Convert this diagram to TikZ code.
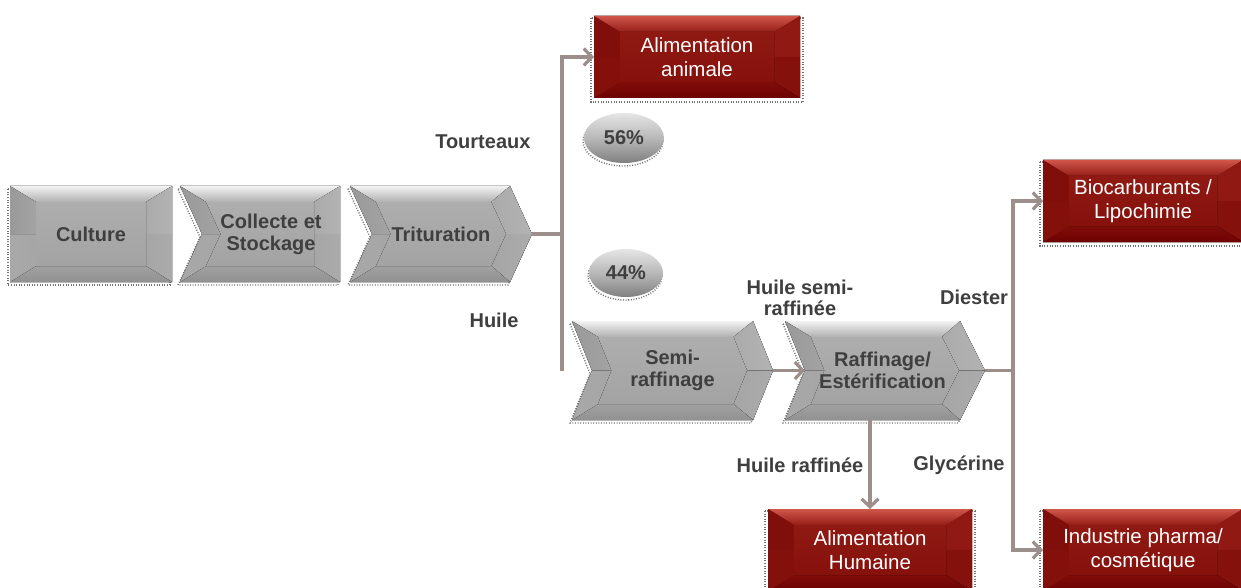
\documentclass[tikz,border=0pt]{standalone}
\usepackage{fontspec}
\setmainfont{Liberation Sans}
\usetikzlibrary{arrows.meta,calc,shapes.geometric}

\definecolor{conncol}{HTML}{9C8E8A}
\definecolor{txtgray}{HTML}{3F3F3F}
\definecolor{redtop}{HTML}{D0564B}
\definecolor{redmid}{HTML}{8A140E}
\definecolor{redbot}{HTML}{6E0202}

\tikzset{
  conn/.style={draw=conncol, line width=3.2pt},
  arr/.style={-{Straight Barb[length=8pt,width=17pt]}},
  shadowdots/.style={draw=black!55, line width=1.4pt, dash pattern=on 1pt off 1.6pt},
  % bevel facets, gray palette
  gray-top/.style={top color=black!5, bottom color=black!31},
  gray-rt/.style={left color=black!33, right color=black!30},
  gray-rb/.style={left color=black!35, right color=black!33},
  gray-bot/.style={top color=black!37, bottom color=black!43},
  gray-lb/.style={left color=black!34, right color=black!35},
  gray-lt/.style={left color=black!40, right color=black!36},
  gray-face/.style={top color=black!32, bottom color=black!36},
  % bevel facets, red palette
  red-top/.style={top color=redtop, bottom color=redmid!85!redtop},
  red-rt/.style={fill=redmid!92!redtop},
  red-rb/.style={fill=redmid!82!redbot},
  red-bot/.style={top color=redmid!60!redbot, bottom color=redbot},
  red-lb/.style={fill=redmid!78!redbot},
  red-lt/.style={fill=redmid!65!redbot},
  red-face/.style={top color=redmid!92!redtop, bottom color=redmid!85!redbot},
  frame/.style={rectangle, inner sep=0pt, outer sep=0pt},
  boxtext/.style={text=txtgray, font=\fontsize{20}{22}\selectfont\bfseries, align=center},
  redtext/.style={text=white, font=\fontsize{20.5}{23.5}\selectfont, align=center},
  flowlabel/.style={text=txtgray, font=\fontsize{20}{21.5}\selectfont\bfseries, align=center},
  pctnode/.style={ellipse, inner sep=0pt, top color=black!10, bottom color=black!50,
    middle color=black!28, text=txtgray, font=\fontsize{20}{22}\selectfont\bfseries}
}

% bevelled outline: x1, y1, x2, y2, left notch, right tip, palette
\newcommand\bevelshape[7]{%
  \pgfmathsetmacro\bvcy{(#2+#4)/2}%
  \pgfmathsetmacro\bvsc{(#4-#2-32)/(#4-#2)}%
  \coordinate (O1) at (#1,#2);
  \coordinate (O2) at ({#3-#6},#2);
  \coordinate (O3) at (#3,\bvcy);
  \coordinate (O4) at ({#3-#6},#4);
  \coordinate (O5) at (#1,#4);
  \coordinate (O6) at ({#1+#5},\bvcy);
  \coordinate (I1) at ({#1+26},{#2+16});
  \coordinate (I2) at ({#3-26-#6*\bvsc},{#2+16});
  \coordinate (I3) at ({#3-26},\bvcy);
  \coordinate (I4) at ({#3-26-#6*\bvsc},{#4-16});
  \coordinate (I5) at ({#1+26},{#4-16});
  \coordinate (I6) at ({#1+26+#5*\bvsc},\bvcy);
  \fill[#7-face] (O1) -- (O2) -- (O3) -- (O4) -- (O5) -- (O6) -- cycle;
  \fill[#7-top] (O1) -- (O2) -- (I2) -- (I1) -- cycle;
  \fill[#7-rt] (O2) -- (O3) -- (I3) -- (I2) -- cycle;
  \fill[#7-rb] (O3) -- (O4) -- (I4) -- (I3) -- cycle;
  \fill[#7-bot] (O4) -- (O5) -- (I5) -- (I4) -- cycle;
  \fill[#7-lb] (O5) -- (O6) -- (I6) -- (I5) -- cycle;
  \fill[#7-lt] (O6) -- (O1) -- (I1) -- (I6) -- cycle;
  \fill[#7-face] (I1) -- (I2) -- (I3) -- (I4) -- (I5) -- (I6) -- cycle;
}

% gray process stage: name, x1, y1, x2, y2, left notch, right tip, text
\newcommand\graystage[8]{%
  \pgfmathsetmacro\stcx{(#2+#4)/2}%
  \pgfmathsetmacro\stcy{(#3+#5)/2}%
  \pgfmathsetmacro\stww{#4-#2}%
  \pgfmathsetmacro\sthh{#5-#3}%
  \draw[shadowdots, shift={(-2,3)}] (#2,#3) -- ({#4-#7},#3) -- (#4,\stcy)
    -- ({#4-#7},#5) -- (#2,#5) -- ({#2+#6},\stcy) -- cycle;
  \bevelshape{#2}{#3}{#4}{#5}{#6}{#7}{gray}
  \node[frame, minimum width=\stww pt, minimum height=\sthh pt] (#1) at (\stcx,\stcy) {};
  \node[boxtext] (#1-text) at ({\stcx+(#6-#7)/2},\stcy) {#8};
}

% red outcome box: name, x1, y1, x2, y2, text
\newcommand\redstage[6]{%
  \pgfmathsetmacro\stcx{(#2+#4)/2}%
  \pgfmathsetmacro\stcy{(#3+#5)/2}%
  \pgfmathsetmacro\stww{#4-#2}%
  \pgfmathsetmacro\sthh{#5-#3}%
  \draw[shadowdots] ({#2-3},{#3+2}) rectangle ({#4+3},{#5+4});
  \bevelshape{#2}{#3}{#4}{#5}{0}{0}{red}
  \node[frame, minimum width=\stww pt, minimum height=\sthh pt, redtext] (#1) at (\stcx,\stcy) {#6};
}

\begin{document}
\begin{tikzpicture}[x=1pt, y=-1pt]
\useasboundingbox (0,0) rectangle (1241,588);

% main chain
\graystage{cult}{10}{186}{172}{282}{0}{0}{Culture}
\graystage{coll}{180}{186}{340}{282}{22}{0}{Collecte et\\Stockage}
\graystage{trit}{350}{186}{532}{282}{22}{22}{Trituration}
\graystage{semi}{572}{321}{773}{420}{20}{20}{Semi-\\raffinage}
\graystage{raff}{785}{321}{985}{420}{20}{25}{Raffinage/\\Estérification}

% outlets
\redstage{anim}{594}{16}{800}{98}{Alimentation\\animale}
\redstage{bio}{1043}{160}{1243}{242}{Biocarburants /\\Lipochimie}
\redstage{hum}{768}{509}{972}{591}{Alimentation\\Humaine}
\redstage{ind}{1043}{509}{1243}{591}{Industrie pharma/\\cosmétique}

% shares
\draw[shadowdots] (623,141) ellipse [x radius=40, y radius=25];
\node[pctnode, minimum width=80pt, minimum height=50pt] (p56) at (624,138) {56\%};
\draw[shadowdots] (625,276) ellipse [x radius=37, y radius=24];
\node[pctnode, minimum width=74pt, minimum height=48pt] (p44) at (626,273) {44\%};

% flow labels
\node[flowlabel, anchor=east] (lbtour) at (534,142) {Tourteaux};
\node[flowlabel, anchor=east] (lbhuile) at (522,320) {Huile};
\node[flowlabel] (lbsemi) at (800,298) {Huile semi-\\raffinée};
\node[flowlabel] (lbdies) at (974,297) {Diester};
\node[flowlabel] (lbraff) at (800,465) {Huile raffinée};
\node[flowlabel] (lbgly) at (959,465) {Glycérine};

% connectors
\coordinate (split) at ($(trit.east)+(30,0)$);
\draw[conn] (trit.east) -- (split);
\draw[conn, arr] (split) |- (anim.west);
\draw[conn] (split) -- (split |- semi.west);
\draw[conn, arr] (semi.east) -- ($(raff.west)+(20,0)$);
\coordinate (split2) at ($(raff.east)+(28,0)$);
\draw[conn] (raff.east) -- (split2);
\draw[conn, arr] (split2) |- (bio.west);
\draw[conn, arr] (split2) |- (ind.west);
\draw[conn, arr] (raff.south -| hum.north) -- (hum.north);
\end{tikzpicture}
\end{document}
